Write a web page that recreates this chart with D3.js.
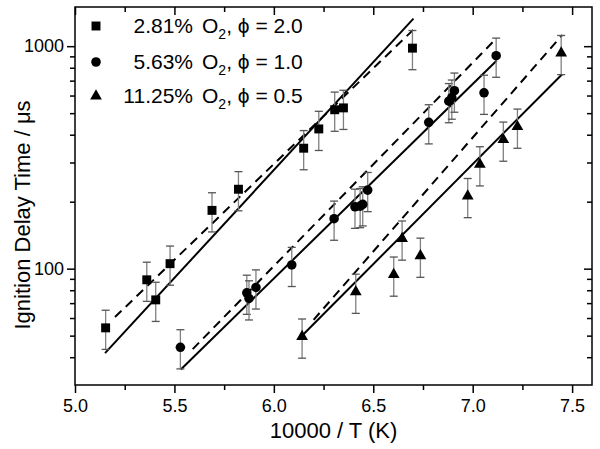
<!DOCTYPE html>
<html>
<head>
<meta charset="utf-8">
<script src="https://cdn.jsdelivr.net/npm/d3@7"></script>
<style>
  body { margin: 0; background: #fff; }
  text { font-family: "Liberation Sans", Arial, sans-serif; }
</style>
</head>
<body>
<div id="chart"></div>
<script>
// measured data, 1000/T on x, ignition delay (us) on y
var sqX = [5.154, 5.361, 5.406, 5.478, 5.689, 5.822, 6.150, 6.226, 6.306, 6.350, 6.697];
var sqY = [54.2, 89.1, 72.4, 105.3, 182.8, 227.5, 347.9, 424.7, 518, 528, 980];

var ciX = [5.530, 5.864, 5.875, 5.910, 6.090, 6.303, 6.408, 6.434, 6.447, 6.472, 6.779, 6.880, 6.895, 6.908, 7.057, 7.118];
var ciY = [44.3, 77.9, 73.5, 82.3, 103.9, 167.7, 189.7, 191, 194.5, 225.5, 454.6, 566, 587, 631, 617, 906];

var trX = [6.142, 6.412, 6.603, 6.645, 6.737, 6.975, 7.036, 7.154, 7.225, 7.445];
var trY = [49.5, 78.7, 94, 136.5, 114.3, 211.9, 294.3, 380, 434.6, 931];

// error bars are +/- 20%
var errFrac = 0.2;

// fit lines, end points [x, y]
var sqSolid = [[5.151, 41.7], [6.702, 1330]];
var sqDash  = [[5.201, 60.6], [6.702, 1187]];
var ciSolid = [[5.532, 35.2], [7.121, 863]];
var ciDash  = [[5.592, 43.5], [7.118, 1081]];
var trSolid = [[6.149, 50.7], [7.450, 748]];
var trDash  = [[6.20, 58.9], [7.45, 1122]];

var xTicks = [5.0, 5.5, 6.0, 6.5, 7.0, 7.5];
var xMinor = [5.25, 5.75, 6.25, 6.75, 7.25];
var yTicks = [100, 1000];
var yMinor = [40, 50, 60, 70, 80, 90, 200, 300, 400, 500, 600, 700, 800, 900];

var legendLabels = ["2.81%", "5.63%", "11.25%"];
var legendPhi = ["2.0", "1.0", "0.5"];

var W = 600, H = 449;
var L = 75, R = 592, T = 7, B = 385;

var svg = d3.select("#chart").append("svg")
  .attr("width", W)
  .attr("height", H);

var x = d3.scaleLinear().domain([5.0, 7.6]).range([L, R]);
var y = d3.scaleLog().domain([30, 1500]).range([B, T]);

function noDomain(g) { g.select(".domain").remove(); }

// axes (bottom/left ticks outward, top/right mirrored inward)
var fmt = d3.format(".1f");
svg.append("g")
  .attr("transform", "translate(0," + B + ")")
  .call(d3.axisBottom(x).tickValues(xTicks).tickSize(8).tickPadding(6).tickFormat(fmt))
  .call(noDomain);
svg.append("g")
  .attr("transform", "translate(0," + B + ")")
  .call(d3.axisBottom(x).tickValues(xMinor).tickSize(5).tickFormat(""))
  .call(noDomain);
svg.append("g")
  .attr("transform", "translate(0," + T + ")")
  .call(d3.axisBottom(x).tickValues(xTicks).tickSize(8).tickFormat(""))
  .call(noDomain);
svg.append("g")
  .attr("transform", "translate(0," + T + ")")
  .call(d3.axisBottom(x).tickValues(xMinor).tickSize(5).tickFormat(""))
  .call(noDomain);

svg.append("g")
  .attr("transform", "translate(" + L + ",0)")
  .call(d3.axisLeft(y).tickValues(yTicks).tickSize(8).tickPadding(3).tickFormat(d3.format("d")))
  .call(noDomain);
svg.append("g")
  .attr("transform", "translate(" + L + ",0)")
  .call(d3.axisLeft(y).tickValues(yMinor).tickSize(5).tickFormat(""))
  .call(noDomain);
svg.append("g")
  .attr("transform", "translate(" + R + ",0)")
  .call(d3.axisLeft(y).tickValues(yTicks).tickSize(8).tickFormat(""))
  .call(noDomain);
svg.append("g")
  .attr("transform", "translate(" + R + ",0)")
  .call(d3.axisLeft(y).tickValues(yMinor).tickSize(5).tickFormat(""))
  .call(noDomain);

svg.selectAll(".tick line").attr("stroke", "#000").attr("stroke-width", 1.5);
svg.selectAll(".tick text")
  .attr("fill", "#000")
  .style("font-size", "18px")
  .style("font-family", "Liberation Sans, Arial, sans-serif");

svg.append("rect")
  .attr("x", L).attr("y", T)
  .attr("width", R - L).attr("height", B - T)
  .attr("fill", "none")
  .attr("stroke", "#000")
  .attr("stroke-width", 1.5);

// axis titles
svg.append("text")
  .attr("x", (L + R) / 2)
  .attr("y", 438)
  .attr("text-anchor", "middle")
  .style("font-size", "22px")
  .text("10000 / T (K)");

svg.append("text")
  .attr("transform", "translate(30,215) rotate(-90)")
  .attr("text-anchor", "middle")
  .style("font-size", "22px")
  .text("Ignition Delay Time / μs");

// fit lines
var line = d3.line()
  .x(function(d) { return x(d[0]); })
  .y(function(d) { return y(d[1]); });

[sqSolid, ciSolid, trSolid].forEach(function(pts) {
  svg.append("path").attr("d", line(pts))
    .attr("fill", "none").attr("stroke", "#000").attr("stroke-width", 2);
});
[sqDash, ciDash, trDash].forEach(function(pts) {
  svg.append("path").attr("d", line(pts))
    .attr("fill", "none").attr("stroke", "#000").attr("stroke-width", 2)
    .attr("stroke-dasharray", "9,6");
});

// series with error bars
var series = [
  {xs: sqX, ys: sqY, sym: d3.symbolSquare, size: 80},
  {xs: ciX, ys: ciY, sym: d3.symbolCircle, size: 72},
  {xs: trX, ys: trY, sym: d3.symbolTriangle, size: 60}
];

series.forEach(function(s) {
  var pts = s.xs.map(function(v, i) { return [v, s.ys[i]]; });
  var eb = svg.append("g").attr("stroke", "#808080").attr("stroke-width", 1.3);
  pts.forEach(function(p) {
    var cx = x(p[0]),
        y1 = y(p[1] * (1 + errFrac)),
        y2 = y(p[1] * (1 - errFrac));
    eb.append("line").attr("x1", cx).attr("x2", cx).attr("y1", y1).attr("y2", y2);
    eb.append("line").attr("x1", cx - 4).attr("x2", cx + 4).attr("y1", y1).attr("y2", y1).attr("stroke", "#555");
    eb.append("line").attr("x1", cx - 4).attr("x2", cx + 4).attr("y1", y2).attr("y2", y2).attr("stroke", "#555");
  });
  svg.append("g").selectAll("path")
    .data(pts)
    .enter().append("path")
    .attr("d", d3.symbol().type(s.sym).size(s.size))
    .attr("transform", function(d) { return "translate(" + x(d[0]) + "," + y(d[1]) + ")"; })
    .attr("fill", "#000");
});

// legend
var legY = [26, 62, 96];
series.forEach(function(s, i) {
  svg.append("path")
    .attr("d", d3.symbol().type(s.sym).size(s.size)())
    .attr("transform", "translate(96," + legY[i] + ")")
    .attr("fill", "#000");
  svg.append("text")
    .attr("x", 193).attr("y", legY[i] + 7)
    .attr("text-anchor", "end")
    .style("font-size", "21px")
    .text(legendLabels[i]);
  var t = svg.append("text")
    .attr("x", 202).attr("y", legY[i] + 7)
    .style("font-size", "21px");
  t.append("tspan").text("O");
  t.append("tspan").attr("dy", 6).style("font-size", "14px").text("2");
  t.append("tspan").attr("dy", -6).text(", ϕ = " + legendPhi[i]);
});
</script>
</body>
</html>
